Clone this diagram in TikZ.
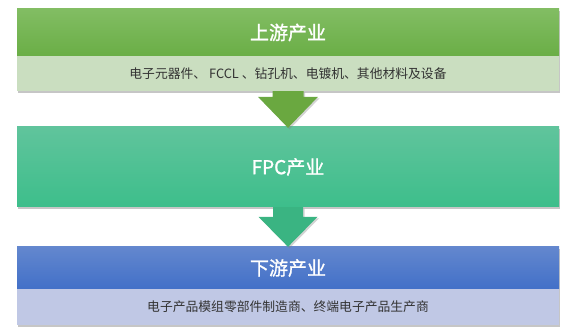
\documentclass[tikz,border=0pt]{standalone}
\usepackage{fontspec}
\setmainfont{Noto Sans CJK SC}
\newfontfamily\titlefont[FakeBold=1.2]{Noto Sans CJK SC}
\usepackage{xcolor}
\usepackage{tikz}
\usetikzlibrary{calc, shadows}

\definecolor{upTop}{HTML}{82BD63}
\definecolor{upBot}{HTML}{6AAE46}
\definecolor{upBand}{HTML}{CADEC0}
\definecolor{arrowA}{HTML}{6AA840}
\definecolor{fpcTop}{HTML}{60C49C}
\definecolor{fpcBot}{HTML}{3DBE8B}
\definecolor{arrowB}{HTML}{3AB482}
\definecolor{downTop}{HTML}{6387CE}
\definecolor{downBot}{HTML}{4270C8}
\definecolor{downBand}{HTML}{C0C8E5}
\definecolor{textgray}{HTML}{333333}

\begin{document}
\begin{tikzpicture}[
    x=1pt, y=1pt,
    every node/.style={rectangle, inner sep=0pt, minimum width=542pt},
    header/.style={text=white, font=\titlefont\fontsize{19}{22}\selectfont},
    band/.style={text=textgray, font=\fontsize{12.8}{15}\selectfont},
    boxshadow/.style={drop shadow={shadow xshift=1.2pt, shadow yshift=-1.6pt, opacity=0.45}},
    bigarrow/.style={draw=none, drop shadow={shadow xshift=1.5pt, shadow yshift=-1.5pt, opacity=0.35}}
]
\useasboundingbox (0,0) rectangle (576,-336);

% Upstream block
\node[header, top color=upTop, bottom color=upBot, minimum height=47pt, boxshadow] (up) at (288,-32.5) {上游产业};
\node[band, fill=upBand, minimum height=35pt, boxshadow] (upband) at (288,-73.5) {电子元器件、 FCCL 、钻孔机、电镀机、其他材料及设备};

% FPC block
\node[header, top color=fpcTop, bottom color=fpcBot, minimum height=80pt, boxshadow] (fpc) at (288,-167) {FPC产业};

% Downstream block
\node[header, top color=downTop, bottom color=downBot, minimum height=42pt, boxshadow] (down) at (288,-268) {下游产业};
\node[band, fill=downBand, minimum height=36pt, boxshadow] (downband) at (288,-307) {电子产品模组零部件制造商、终端电子产品生产商};

% Block arrows between the stages
\fill[bigarrow, arrowA] ($(upband.south)+(-15.5,0)$) -- ($(fpc.north)+(-15.5,30)$) -- ($(fpc.north)+(-30,30)$)
    -- ($(fpc.north)+(0,-1)$) -- ($(fpc.north)+(30,30)$) -- ($(fpc.north)+(15.5,30)$) -- ($(upband.south)+(15.5,0)$) -- cycle;
\fill[bigarrow, arrowB] ($(fpc.south)+(-15,0)$) -- ($(down.north)+(-15,30)$) -- ($(down.north)+(-29.5,30)$)
    -- (down.north) -- ($(down.north)+(29.5,30)$) -- ($(down.north)+(15,30)$) -- ($(fpc.south)+(15,0)$) -- cycle;

\end{tikzpicture}
\end{document}
